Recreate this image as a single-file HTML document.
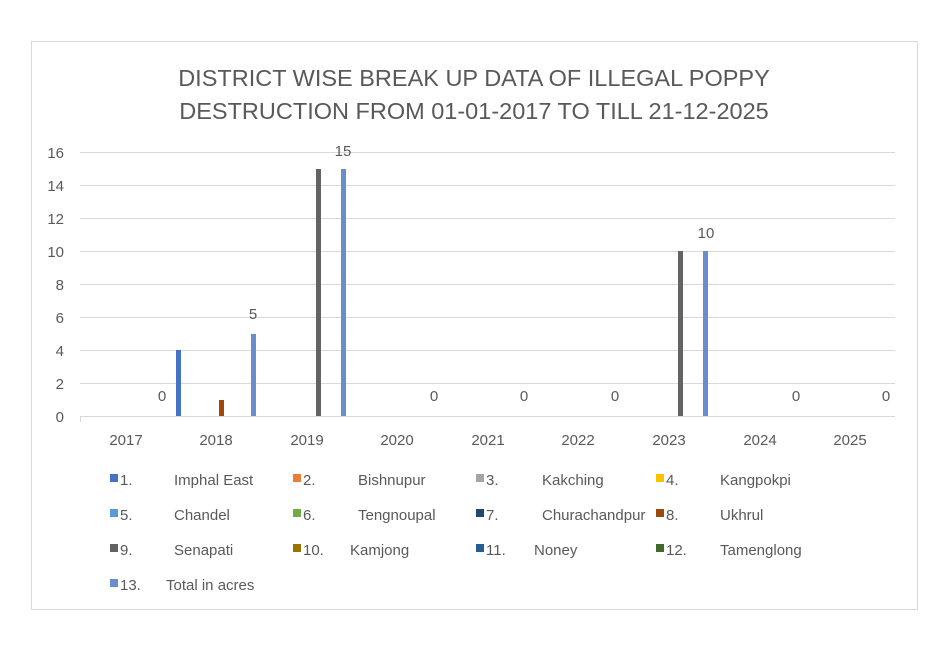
<!DOCTYPE html>
<html><head><style>body{margin:0;background:#fff}text{font-family:"Liberation Sans",sans-serif;fill:#595959}</style></head><body>
<svg width="943" height="641" xmlns="http://www.w3.org/2000/svg">
<rect x="31.5" y="41.5" width="886" height="568" fill="#fff" stroke="#d9d9d9"/>
<text x="474" y="86" font-size="23.5" text-anchor="middle">DISTRICT WISE BREAK UP DATA OF ILLEGAL POPPY</text>
<text x="474" y="119" font-size="23.5" text-anchor="middle">DESTRUCTION FROM 01-01-2017 TO TILL 21-12-2025</text>
<g stroke="#d9d9d9" stroke-width="1">
<line x1="80" x2="895" y1="152.5" y2="152.5"/><line x1="80" x2="895" y1="185.5" y2="185.5"/>
<line x1="80" x2="895" y1="218.5" y2="218.5"/><line x1="80" x2="895" y1="251.5" y2="251.5"/>
<line x1="80" x2="895" y1="284.5" y2="284.5"/><line x1="80" x2="895" y1="317.5" y2="317.5"/>
<line x1="80" x2="895" y1="350.5" y2="350.5"/><line x1="80" x2="895" y1="383.5" y2="383.5"/>
<line x1="80" x2="895" y1="416.5" y2="416.5"/>
<line x1="80.5" x2="80.5" y1="416" y2="422"/>
</g>
<g font-size="15" text-anchor="end">
<text x="64" y="158">16</text><text x="64" y="191">14</text><text x="64" y="224">12</text>
<text x="64" y="257">10</text><text x="64" y="290">8</text><text x="64" y="323">6</text>
<text x="64" y="356">4</text><text x="64" y="389">2</text><text x="64" y="422">0</text>
</g>
<g font-size="15" text-anchor="middle">
<text x="126" y="445">2017</text><text x="216" y="445">2018</text><text x="307" y="445">2019</text>
<text x="397" y="445">2020</text><text x="488" y="445">2021</text><text x="578" y="445">2022</text>
<text x="669" y="445">2023</text><text x="760" y="445">2024</text><text x="850" y="445">2025</text>
</g>
<rect x="176" y="350" width="5" height="66" fill="#4472c4"/>
<rect x="219" y="400" width="5" height="16" fill="#9e480e"/>
<rect x="251" y="334" width="5" height="82" fill="#698ed0"/>
<rect x="316" y="169" width="5" height="247" fill="#636363"/>
<rect x="341" y="169" width="5" height="247" fill="#698ed0"/>
<rect x="678" y="251" width="5" height="165" fill="#636363"/>
<rect x="703" y="251" width="5" height="165" fill="#698ed0"/>
<g font-size="15" text-anchor="middle">
<text x="162" y="401">0</text><text x="253" y="319">5</text><text x="343" y="156">15</text>
<text x="434" y="401">0</text><text x="524" y="401">0</text><text x="615" y="401">0</text>
<text x="706" y="238">10</text><text x="796" y="401">0</text><text x="886" y="401">0</text>
</g>
<g font-size="15">
<rect x="110" y="474" width="8" height="8" fill="#4472c4"/><text x="120" y="485">1.</text><text x="174" y="485">Imphal East</text>
<rect x="293" y="474" width="8" height="8" fill="#ed7d31"/><text x="303" y="485">2.</text><text x="358" y="485">Bishnupur</text>
<rect x="476" y="474" width="8" height="8" fill="#a5a5a5"/><text x="486" y="485">3.</text><text x="542" y="485">Kakching</text>
<rect x="656" y="474" width="8" height="8" fill="#ffc000"/><text x="666" y="485">4.</text><text x="720" y="485">Kangpokpi</text>
<rect x="110" y="509" width="8" height="8" fill="#5b9bd5"/><text x="120" y="520">5.</text><text x="174" y="520">Chandel</text>
<rect x="293" y="509" width="8" height="8" fill="#70ad47"/><text x="303" y="520">6.</text><text x="358" y="520">Tengnoupal</text>
<rect x="476" y="509" width="8" height="8" fill="#264478"/><text x="486" y="520">7.</text><text x="542" y="520">Churachandpur</text>
<rect x="656" y="509" width="8" height="8" fill="#9e480e"/><text x="666" y="520">8.</text><text x="720" y="520">Ukhrul</text>
<rect x="110" y="544" width="8" height="8" fill="#636363"/><text x="120" y="555">9.</text><text x="174" y="555">Senapati</text>
<rect x="293" y="544" width="8" height="8" fill="#997300"/><text x="303" y="555">10.</text><text x="350" y="555">Kamjong</text>
<rect x="476" y="544" width="8" height="8" fill="#255e91"/><text x="486" y="555">11.</text><text x="534" y="555">Noney</text>
<rect x="656" y="544" width="8" height="8" fill="#43682b"/><text x="666" y="555">12.</text><text x="720" y="555">Tamenglong</text>
<rect x="110" y="579" width="8" height="8" fill="#698ed0"/><text x="120" y="590">13.</text><text x="166" y="590">Total in acres</text>
</g>
</svg>
</body></html>
